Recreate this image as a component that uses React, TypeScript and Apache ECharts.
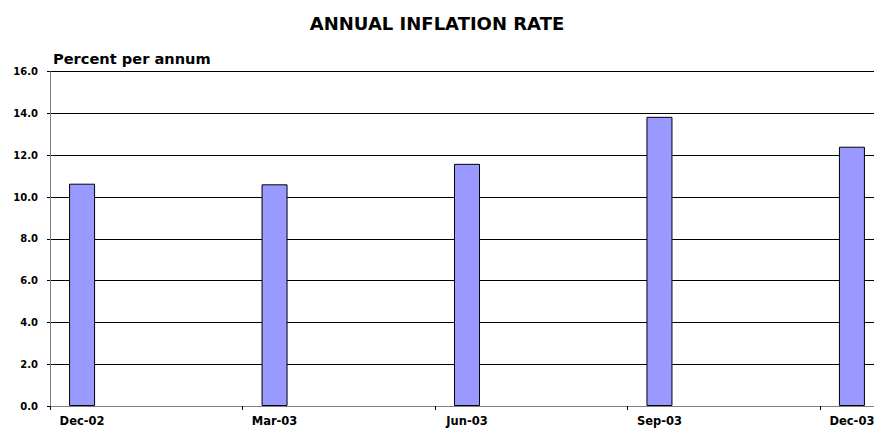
import React, { useEffect, useRef } from "react";
import * as echarts from "echarts";

const months = [
  "Dec-02", "Jan-03", "Feb-03", "Mar-03", "Apr-03", "May-03", "Jun-03",
  "Jul-03", "Aug-03", "Sep-03", "Oct-03", "Nov-03", "Dec-03",
];
const quarters = ["Dec-02", "Mar-03", "Jun-03", "Sep-03", "Dec-03"];
const inflation = [10.64, 10.61, 11.59, 13.84, 12.41];
const yTicks = { min: 0, max: 16, interval: 2 };

const FONT = "DejaVu Sans";

export default function App() {
  const ref = useRef<HTMLDivElement>(null);
  useEffect(() => {
    if (!ref.current) return;
    const chart = echarts.init(ref.current, undefined, { renderer: "svg" });
    const data = months.map((m) => {
      const i = quarters.indexOf(m);
      return i >= 0 ? inflation[i] : null;
    });
    chart.setOption({
      animation: false,
      backgroundColor: "#fff",
      title: {
        text: "ANNUAL INFLATION RATE",
        left: 437,
        textAlign: "center",
        top: 14,
        padding: 0,
        textStyle: { fontFamily: FONT, fontWeight: "bold", fontSize: 18, color: "#000" },
      },
      graphic: [
        {
          type: "text",
          x: 53,
          y: 58,
          style: {
            text: "Percent per annum",
            fontFamily: FONT,
            fontWeight: "bold",
            fontSize: 14.6,
            fill: "#000",
            verticalAlign: "middle",
            align: "left",
          },
        },
      ],
      grid: { left: 50, right: 0, top: 71.7, bottom: 22, containLabel: false },
      xAxis: {
        type: "category",
        data: months,
        boundaryGap: true,
        axisLine: { show: true, lineStyle: { color: "#808080", width: 1 } },
        axisTick: { show: true, interval: 2, length: 4, alignWithLabel: false, lineStyle: { color: "#000" } },
        axisLabel: {
          interval: 2,
          margin: 9,
          fontFamily: FONT,
          fontWeight: "bold",
          fontSize: 11.5,
          color: "#000",
        },
        splitLine: { show: false },
      },
      yAxis: {
        type: "value",
        min: yTicks.min,
        max: yTicks.max,
        interval: yTicks.interval,
        axisLine: { show: true, lineStyle: { color: "#808080", width: 1 } },
        axisTick: { show: true, length: 3, lineStyle: { color: "#000" } },
        axisLabel: {
          margin: 12,
          formatter: (v: number) => v.toFixed(1),
          fontFamily: FONT,
          fontWeight: "bold",
          fontSize: 10,
          color: "#000",
        },
        splitLine: { show: true, lineStyle: { color: "#000", width: 1 } },
      },
      series: [
        {
          type: "bar",
          data,
          barWidth: 26,
          itemStyle: { color: "#9999FF", borderColor: "#000", borderWidth: 1 },
        },
      ],
    });
    return () => chart.dispose();
  }, []);
  return (
    <div
      style={{ position: "fixed", left: 0, top: 0, width: 874, height: 428, overflow: "hidden" }}
    >
      <div ref={ref} style={{ width: 884, height: 428 }} />
    </div>
  );
}
